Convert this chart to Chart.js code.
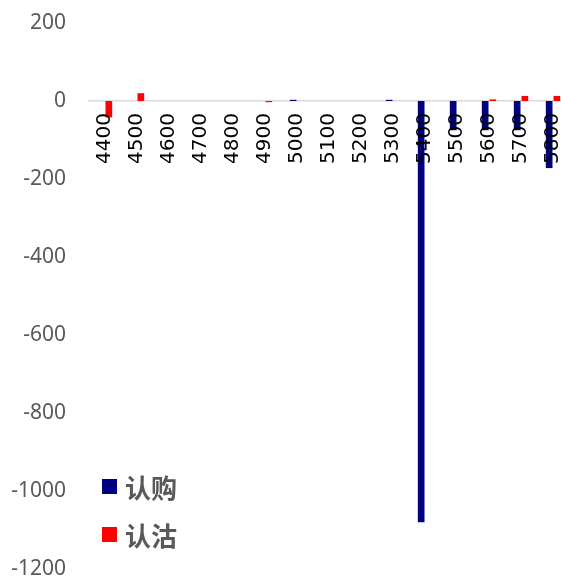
<!DOCTYPE html>
<html>
<head>
<meta charset="utf-8">
<script src="https://cdn.jsdelivr.net/npm/chart.js@4"></script>
<style>
  html, body { margin: 0; padding: 0; overflow: hidden; background: #fff; width: 561px; height: 580px; }
  #wrap { position: relative; width: 575px; height: 580px; }
  #legend { position: absolute; left: 102px; top: 462px; font-family: "Noto Sans CJK SC", sans-serif; font-weight: bold; font-size: 26px; color: #595959; }
  .item { display: flex; align-items: center; height: 48px; }
  .sw { width: 15px; height: 15px; margin-right: 8px; }
</style>
</head>
<body>
<div id="wrap">
  <canvas id="c" width="575" height="580"></canvas>
  <div id="legend"></div>
</div>
<script>
// Strike prices
const strikes = ['4400', '4500', '4600', '4700', '4800', '4900', '5000', '5100',
                 '5200', '5300', '5400', '5500', '5600', '5700', '5800'];
// Change in open interest, calls (认购)
const callChange = [0, 0, 0, 0, 0, 0, 3, 0, 0, 3, -1080, -75, -75, -75, -172];
// Change in open interest, puts (认沽)
const putChange = [-42, 20, 0, 0, 0, -3, 0, 0, 0, 0, 0, 0, 4, 13, 13];
// Value axis range
const yMin = -1200, yMax = 200, yStep = 200;

const seriesNames = ['认购', '认沽'];
const seriesColors = ['#000080', '#FF0000'];

const chart = new Chart(document.getElementById('c'), {
  type: 'bar',
  data: {
    labels: strikes,
    datasets: [
      { label: seriesNames[0], data: callChange, backgroundColor: seriesColors[0] },
      { label: seriesNames[1], data: putChange, backgroundColor: seriesColors[1] }
    ]
  },
  options: {
    responsive: false,
    animation: false,
    categoryPercentage: 0.48,
    barPercentage: 0.87,
    layout: { padding: { left: 0, right: 6, top: 23, bottom: 11 } },
    plugins: { legend: { display: false }, tooltip: { enabled: false } },
    scales: {
      x: {
        position: { y: 0 },
        grid: { display: false, drawTicks: false },
        border: { display: true, color: '#d9d9d9', width: 1.5 },
        ticks: {
          z: 1,
          autoSkip: false,
          maxRotation: 90,
          minRotation: 90,
          padding: 12,
          color: '#000000',
          font: { family: 'DejaVu Sans', size: 20 }
        },
        afterFit(scale) { scale.paddingLeft = 0; scale.paddingRight = 0; }
      },
      y: {
        min: yMin,
        max: yMax,
        grid: { display: false, drawTicks: false },
        border: { display: false },
        ticks: {
          stepSize: yStep,
          padding: 23,
          color: '#595959',
          font: { family: 'Noto Sans', size: 21 },
          callback: value => String(value)
        },
        afterFit(scale) { scale.width = 89; scale.paddingTop = 0; scale.paddingBottom = 0; }
      }
    }
  }
});

// Legend entries built from the chart's datasets
const legend = document.getElementById('legend');
chart.data.datasets.forEach(ds => {
  const item = document.createElement('div');
  item.className = 'item';
  const sw = document.createElement('span');
  sw.className = 'sw';
  sw.style.background = ds.backgroundColor;
  const txt = document.createElement('span');
  txt.textContent = ds.label;
  item.appendChild(sw);
  item.appendChild(txt);
  legend.appendChild(item);
});
</script>
</body>
</html>
